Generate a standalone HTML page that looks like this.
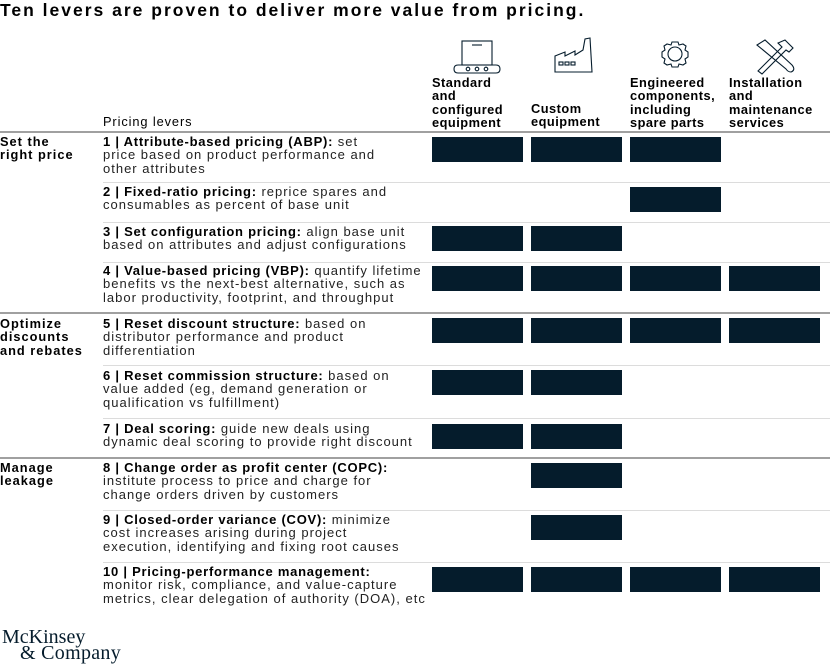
<!DOCTYPE html>
<html><head><meta charset="utf-8"><style>
body{margin:0;width:830px;height:666px;background:#fff;position:relative;overflow:hidden;font-family:"Liberation Sans",sans-serif;color:#000}
.a{position:absolute}
.t{position:absolute;font-size:13px;line-height:13.3px;letter-spacing:1.0px;white-space:nowrap;color:#222}
.t b{color:#000;letter-spacing:0.75px}
.h{position:absolute;font-size:12.8px;line-height:13.3px;letter-spacing:0.5px;font-weight:bold;white-space:nowrap}
.s{position:absolute;font-size:12.8px;line-height:13.3px;letter-spacing:1.0px;font-weight:bold;white-space:nowrap}
b{font-weight:bold}
.bar{position:absolute;background:#051c2c;width:91px;height:25px}
.L{position:absolute;left:0;width:830px;height:1.5px;background:#a0a0a0}
.l{position:absolute;left:103px;width:727px;height:1px;background:#dcdcdc}
</style></head><body>
<div class="a" style="left:0;top:0;font-size:17.5px;font-weight:bold;letter-spacing:2.0px">Ten levers are proven to deliver more value from pricing.</div>

<svg class="a" style="left:420px;top:30px" width="410" height="50" viewBox="0 0 410 50" fill="none" stroke="#051c2c" stroke-width="1.1">
<rect x="42" y="11" width="30" height="24"/><line x1="52" y1="15" x2="62" y2="15"/>
<path d="M42 35 L38 35 Q34 35 34 39 Q34 43 38 43 L76 43 Q80 43 80 39 Q80 35 76 35 L72 35"/>
<circle cx="48" cy="39" r="1.8"/><circle cx="57" cy="39" r="1.8"/><circle cx="66" cy="39" r="1.8"/>
<path d="M135 42 L135 26 L145 22 L145 26 L155 21 L155 25 L163 20 L165 9 L170 8 L172 42 Z"/>
<rect x="139" y="32" width="4" height="3"/><rect x="145" y="32" width="4" height="3"/><rect x="151" y="32" width="4" height="3"/>
<circle cx="255" cy="24" r="7"/>
<path d="M252 12 L258 12 L259 15 L263 14 L266 16 L265 20 L268 22 L268 27 L265 29 L266 33 L263 35 L259 34 L258 37 L252 37 L251 34 L247 35 L244 33 L245 29 L242 27 L242 22 L245 20 L244 16 L247 14 L251 15 Z"/>
<path d="M337 15 L345 10 L372 35 Q376 40 371 42 Q368 42 366 39 Z"/>
<path d="M338 41 L362 17 L358 13 L365 10 L373 18 L369 22 L366 20 L342 44 Z"/>
</svg>

<div class="h" style="left:432px;top:76px">Standard<br>and<br>configured<br>equipment</div>
<div class="h" style="left:531px;top:102px">Custom<br>equipment</div>
<div class="h" style="left:630px;top:76px">Engineered<br>components,<br>including<br>spare parts</div>
<div class="h" style="left:729px;top:76px">Installation<br>and<br>maintenance<br>services</div>
<div class="h" style="left:103px;top:115px;font-weight:normal;letter-spacing:0.9px">Pricing levers</div>

<div class="L" style="top:131px"></div>
<div class="L" style="top:312px"></div>
<div class="L" style="top:457px"></div>
<div class="l" style="top:182px"></div>
<div class="l" style="top:222px"></div>
<div class="l" style="top:262px"></div>
<div class="l" style="top:365px"></div>
<div class="l" style="top:418px"></div>
<div class="l" style="top:510px"></div>
<div class="l" style="top:562px"></div>

<div class="s" style="left:0;top:135px">Set the<br>right price</div>
<div class="s" style="left:0;top:317px">Optimize<br>discounts<br>and rebates</div>
<div class="s" style="left:0;top:461px">Manage<br>leakage</div>

<div class="t" style="left:103px;top:135px"><b>1 | Attribute-based pricing (ABP):</b> set<br>price based on product performance and<br>other attributes</div>
<div class="t" style="left:103px;top:185px"><b>2 | Fixed-ratio pricing:</b> reprice spares and<br>consumables as percent of base unit</div>
<div class="t" style="left:103px;top:225px"><b>3 | Set configuration pricing:</b> align base unit<br>based on attributes and adjust configurations</div>
<div class="t" style="left:103px;top:264px"><b>4 | Value-based pricing (VBP):</b> quantify lifetime<br>benefits vs the next-best alternative, such as<br>labor productivity, footprint, and throughput</div>
<div class="t" style="left:103px;top:317px"><b>5 | Reset discount structure:</b> based on<br>distributor performance and product<br>differentiation</div>
<div class="t" style="left:103px;top:369px"><b>6 | Reset commission structure:</b> based on<br>value added (eg, demand generation or<br>qualification vs fulfillment)</div>
<div class="t" style="left:103px;top:422px"><b>7 | Deal scoring:</b> guide new deals using<br>dynamic deal scoring to provide right discount</div>
<div class="t" style="left:103px;top:461px"><b>8 | Change order as profit center (COPC):</b><br>institute process to price and charge for<br>change orders driven by customers</div>
<div class="t" style="left:103px;top:513px"><b>9 | Closed-order variance (COV):</b> minimize<br>cost increases arising during project<br>execution, identifying and fixing root causes</div>
<div class="t" style="left:103px;top:565px"><b>10 | Pricing-performance management:</b><br>monitor risk, compliance, and value-capture<br>metrics, clear delegation of authority (DOA), etc</div>

<div class="bar" style="left:432px;top:137px"></div><div class="bar" style="left:531px;top:137px"></div><div class="bar" style="left:630px;top:137px"></div>
<div class="bar" style="left:630px;top:187px"></div>
<div class="bar" style="left:432px;top:226px"></div><div class="bar" style="left:531px;top:226px"></div>
<div class="bar" style="left:432px;top:266px"></div><div class="bar" style="left:531px;top:266px"></div><div class="bar" style="left:630px;top:266px"></div><div class="bar" style="left:729px;top:266px"></div>
<div class="bar" style="left:432px;top:318px"></div><div class="bar" style="left:531px;top:318px"></div><div class="bar" style="left:630px;top:318px"></div><div class="bar" style="left:729px;top:318px"></div>
<div class="bar" style="left:432px;top:370px"></div><div class="bar" style="left:531px;top:370px"></div>
<div class="bar" style="left:432px;top:424px"></div><div class="bar" style="left:531px;top:424px"></div>
<div class="bar" style="left:531px;top:463px"></div>
<div class="bar" style="left:531px;top:515px"></div>
<div class="bar" style="left:432px;top:567px"></div><div class="bar" style="left:531px;top:567px"></div><div class="bar" style="left:630px;top:567px"></div><div class="bar" style="left:729px;top:567px"></div>

<div class="a" style="left:2px;top:627px;font-family:'Liberation Serif',serif;font-size:20px;line-height:20px;color:#051c2c;letter-spacing:0px">McKinsey</div>
<div class="a" style="left:20px;top:643px;font-family:'Liberation Serif',serif;font-size:20px;line-height:20px;color:#051c2c;letter-spacing:0.3px">&amp; Company</div>
</body></html>
